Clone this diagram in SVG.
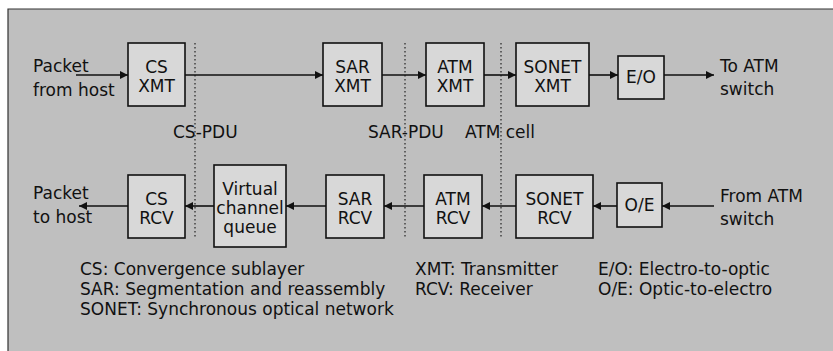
<svg xmlns="http://www.w3.org/2000/svg" width="833" height="351" viewBox="0 0 833 351">
<style>
text{font-family:"DejaVu Sans","Noto Sans","Liberation Sans",sans-serif;font-size:17px;fill:#111}
.c{text-anchor:middle}
.box{fill:#d8d8d8;stroke:#111;stroke-width:1.6}
.ln{stroke:#111;stroke-width:1.6;fill:none}
.dot{stroke:#222;stroke-width:1.2;stroke-dasharray:1.5 2.5;fill:none}
</style>
<defs>
<marker id="ah" viewBox="0 0 10 10" refX="10" refY="5" markerWidth="10" markerHeight="8" markerUnits="userSpaceOnUse" orient="auto">
<path d="M0,0L10,5L0,10z" fill="#111"/>
</marker>
</defs>
<rect x="0" y="0" width="833" height="351" fill="#fff"/>
<rect x="8" y="9" width="825" height="342" fill="#bfbfbf"/>
<path d="M8,351V9H833" stroke="#333" stroke-width="1.2" fill="none"/>

<g id="dividers">
<line class="dot" x1="195" y1="43" x2="195" y2="238"/>
<line class="dot" x1="405" y1="43" x2="405" y2="238"/>
<line class="dot" x1="501" y1="43" x2="501" y2="238"/>
</g>

<g id="connectors">
<line class="ln" x1="76" y1="75" x2="128" y2="75" marker-end="url(#ah)"/>
<line class="ln" x1="185" y1="75" x2="323" y2="75" marker-end="url(#ah)"/>
<line class="ln" x1="382" y1="75" x2="426" y2="75" marker-end="url(#ah)"/>
<line class="ln" x1="484" y1="75" x2="516" y2="75" marker-end="url(#ah)"/>
<line class="ln" x1="589" y1="75" x2="618" y2="75" marker-end="url(#ah)"/>
<line class="ln" x1="664" y1="75" x2="714" y2="75" marker-end="url(#ah)"/>
<line class="ln" x1="714" y1="206" x2="662" y2="206" marker-end="url(#ah)"/>
<line class="ln" x1="617" y1="206" x2="593" y2="206" marker-end="url(#ah)"/>
<line class="ln" x1="516" y1="206" x2="482" y2="206" marker-end="url(#ah)"/>
<line class="ln" x1="424" y1="206" x2="384" y2="206" marker-end="url(#ah)"/>
<line class="ln" x1="326" y1="206" x2="286" y2="206" marker-end="url(#ah)"/>
<line class="ln" x1="214" y1="206" x2="185" y2="206" marker-end="url(#ah)"/>
<line class="ln" x1="128" y1="206" x2="79" y2="206" marker-end="url(#ah)"/>
</g>

<g id="cs-xmt"><rect class="box" x="128" y="43" width="57" height="63"/><text class="c" x="156.5" y="73">CS</text><text class="c" x="156.5" y="92">XMT</text></g>
<g id="sar-xmt"><rect class="box" x="323" y="43" width="59" height="63"/><text class="c" x="352.5" y="73">SAR</text><text class="c" x="352.5" y="92">XMT</text></g>
<g id="atm-xmt"><rect class="box" x="426" y="43" width="58" height="63"/><text class="c" x="455" y="73">ATM</text><text class="c" x="455" y="92">XMT</text></g>
<g id="sonet-xmt"><rect class="box" x="516" y="43" width="73" height="63"/><text class="c" x="552.5" y="73">SONET</text><text class="c" x="552.5" y="92">XMT</text></g>
<g id="eo"><rect class="box" x="618" y="56" width="46" height="43"/><text class="c" x="641" y="83">E/O</text></g>

<g id="cs-rcv"><rect class="box" x="128" y="175" width="57" height="63"/><text class="c" x="156.5" y="205">CS</text><text class="c" x="156.5" y="224">RCV</text></g>
<g id="vcq"><rect class="box" x="214" y="165" width="72" height="82"/><text class="c" x="250" y="195">Virtual</text><text class="c" x="250" y="214">channel</text><text class="c" x="250" y="233">queue</text></g>
<g id="sar-rcv"><rect class="box" x="326" y="175" width="58" height="63"/><text class="c" x="355" y="205">SAR</text><text class="c" x="355" y="224">RCV</text></g>
<g id="atm-rcv"><rect class="box" x="424" y="175" width="58" height="63"/><text class="c" x="453" y="205">ATM</text><text class="c" x="453" y="224">RCV</text></g>
<g id="sonet-rcv"><rect class="box" x="516" y="175" width="77" height="63"/><text class="c" x="554.5" y="205">SONET</text><text class="c" x="554.5" y="224">RCV</text></g>
<g id="oe"><rect class="box" x="617" y="183" width="45" height="44"/><text class="c" x="639.5" y="211">O/E</text></g>

<g id="labels">
<text x="33" y="72">Packet</text><text x="33" y="96">from host</text>
<text x="720" y="72">To ATM</text><text x="720" y="95">switch</text>
<text x="33" y="199">Packet</text><text x="33" y="223">to host</text>
<text x="720" y="202">From ATM</text><text x="720" y="225">switch</text>
<text x="173" y="138">CS-PDU</text>
<text x="368" y="138">SAR-PDU</text>
<text x="465" y="138">ATM cell</text>
</g>

<g id="legend">
<text x="80" y="275">CS: Convergence sublayer</text>
<text x="80" y="295">SAR: Segmentation and reassembly</text>
<text x="80" y="315">SONET: Synchronous optical network</text>
<text x="415" y="275">XMT: Transmitter</text>
<text x="415" y="295">RCV: Receiver</text>
<text x="598" y="275">E/O: Electro-to-optic</text>
<text x="598" y="295">O/E: Optic-to-electro</text>
</g>
</svg>
